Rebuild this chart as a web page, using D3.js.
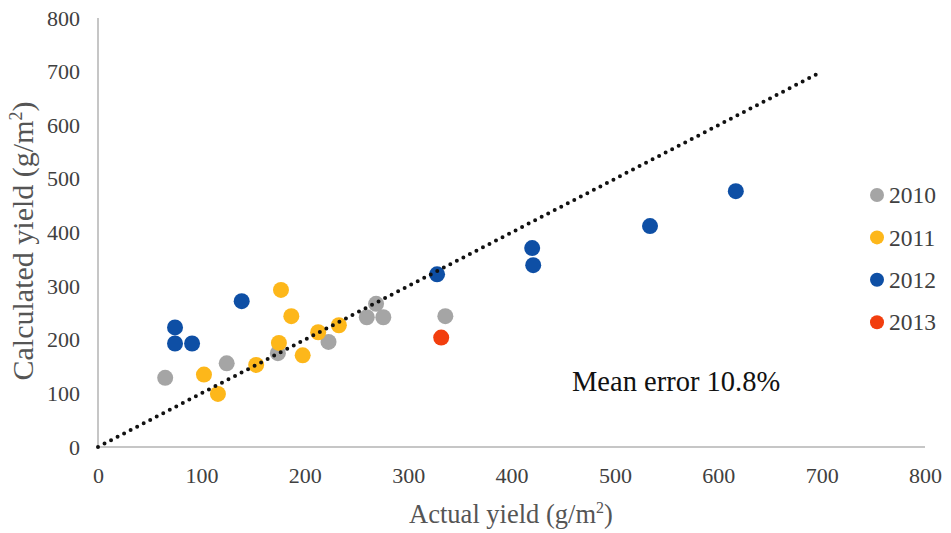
<!DOCTYPE html>
<html><head><meta charset="utf-8">
<script src="https://cdn.jsdelivr.net/npm/d3@7"></script>
<style>
body{margin:0;background:#fff;}
svg{display:block;}
svg text{font-family:"Liberation Serif","DejaVu Serif",serif !important;}
</style></head>
<body><svg id="chart" width="951" height="533"></svg>
<script>
const seriesNames = ["2010","2011","2012","2013"];
const seriesColors = ["#A5A5A5","#FDB71A","#0E4FA5","#F23E0E"];
const actual2010 = [65,124.5,174,223,260,269,276,336];
const calc2010   = [129,156,175,196,242,267,242,244];
const actual2011 = [102.5,116,153,175,177,187,198,213,233];
const calc2011   = [135,99,153,194,293,244,171,214,227];
const actual2012 = [74.5,74.5,91,139,328,420,421,534,617];
const calc2012   = [223,193,193,272,322,371,339,412,477];
const actual2013 = [332];
const calc2013   = [204];
const lineX = [0,700];
const lineY = [0,700];
const xTicks = [0,100,200,300,400,500,600,700,800];
const yTicks = [0,100,200,300,400,500,600,700,800];
const annotation = "Mean error 10.8%";

const svg = d3.select("#chart");
const x = d3.scaleLinear().domain([0,800]).range([98,925]);
const y = d3.scaleLinear().domain([0,800]).range([447,18]);

const axisColor = "#B3B3B3";
svg.append("line").attr("x1",x(0)).attr("x2",x(800)).attr("y1",y(0)).attr("y2",y(0))
  .attr("stroke",axisColor).attr("stroke-width",1.5);
svg.append("line").attr("x1",x(0)).attr("x2",x(0)).attr("y1",y(0)).attr("y2",y(800))
  .attr("stroke",axisColor).attr("stroke-width",1.5);

const xAxis = d3.axisBottom(x).tickValues(xTicks).tickSize(0).tickPadding(20);
const gx = svg.append("g").attr("transform",`translate(0,${y(0)})`).call(xAxis);
gx.select(".domain").remove();
gx.attr("font-family",null);
gx.selectAll("text").attr("font-size",22).attr("fill","#404040");

const yAxis = d3.axisLeft(y).tickValues(yTicks).tickSize(0).tickPadding(18);
const gy = svg.append("g").attr("transform",`translate(${x(0)},0)`).call(yAxis);
gy.select(".domain").remove();
gy.attr("font-family",null);
gy.selectAll("text").attr("font-size",22).attr("fill","#404040");

const series = [
  {name:seriesNames[0], xs:actual2010, ys:calc2010, color:seriesColors[0]},
  {name:seriesNames[1], xs:actual2011, ys:calc2011, color:seriesColors[1]},
  {name:seriesNames[2], xs:actual2012, ys:calc2012, color:seriesColors[2]},
  {name:seriesNames[3], xs:actual2013, ys:calc2013, color:seriesColors[3]}
];
series.forEach(s=>{
  svg.append("g").selectAll("circle").data(s.xs.map((v,i)=>[v,s.ys[i]])).join("circle")
    .attr("cx",d=>x(d[0])).attr("cy",d=>y(d[1])).attr("r",8).attr("fill",s.color);
});

svg.append("path")
  .attr("d", d3.line().x(d=>x(d[0])).y(d=>y(d[1]))(lineX.map((v,i)=>[v,lineY[i]])))
  .attr("stroke","#111").attr("stroke-width",4).attr("stroke-linecap","round")
  .attr("stroke-dasharray","0 7.35").attr("stroke-dashoffset",-7.35).attr("fill","none");

svg.append("text").attr("x",572).attr("y",391).attr("font-size",28.5).attr("fill","#111")
  .text(annotation);

const lg = svg.append("g");
series.forEach((s,i)=>{
  const ly = 195 + i*42.4;
  lg.append("circle").attr("cx",877).attr("cy",ly).attr("r",7).attr("fill",s.color);
  lg.append("text").attr("x",889).attr("y",ly).attr("dy","0.35em")
    .attr("font-size",23.5).attr("fill","#404040").text(s.name);
});

const xt = svg.append("text").attr("x",511).attr("y",523).attr("text-anchor","middle")
  .attr("font-size",26.5).attr("fill","#555");
xt.append("tspan").text("Actual yield (g/m");
xt.append("tspan").attr("font-size",16).attr("dy",-10).text("2");
xt.append("tspan").attr("dy",10).text(")");

const yt = svg.append("text").attr("transform","translate(33,241) rotate(-90)")
  .attr("text-anchor","middle").attr("font-size",30).attr("fill","#555");
yt.append("tspan").text("Calculated yield (g/m");
yt.append("tspan").attr("font-size",18).attr("dy",-11).text("2");
yt.append("tspan").attr("dy",11).text(")");
</script></body></html>
